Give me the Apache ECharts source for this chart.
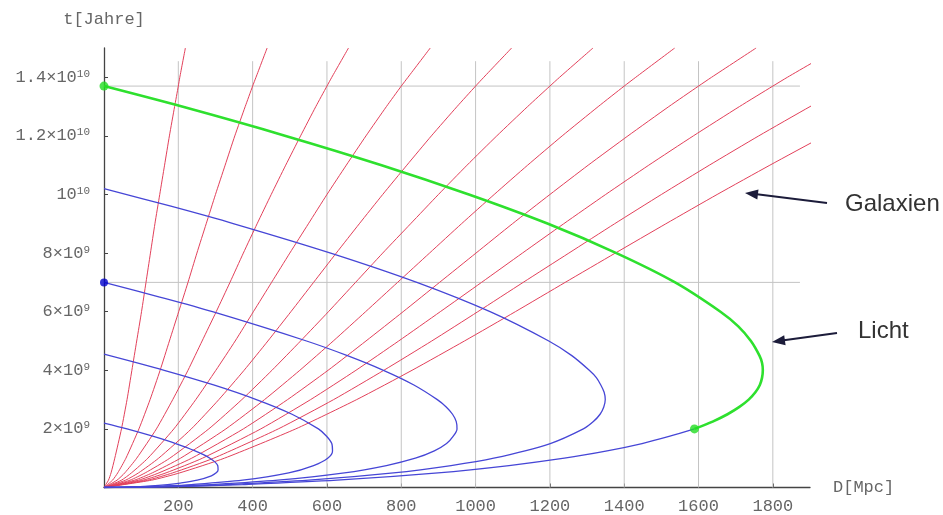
<!DOCTYPE html>
<html><head><meta charset="utf-8">
<script src="https://cdn.jsdelivr.net/npm/echarts@6/dist/echarts.min.js"></script>
<style>html,body{margin:0;padding:0;background:#fff}#c{width:943px;height:515px}</style>
</head><body><div id="c"></div>
<script>
// ---- axes / ticks ----
const xTicks = [200, 400, 600, 800, 1000, 1200, 1400, 1600, 1800];
const yTicks = [2, 4, 6, 8, 10, 12, 14];               // in 10^9 years
const yTickMant = ['2×10', '4×10', '6×10', '8×10', '10', '1.2×10', '1.4×10'];
const yTickExp = ['9', '9', '9', '9', '10', '10', '10'];
const gridXLines = [200, 400, 600, 800, 1000, 1200, 1400, 1600, 1800];
const gridXTop = 14.55;
const gridYLines = [13.7, 7.0];
const gridYRight = 1873;

// ---- galaxy world lines (D in Mpc at times galaxyT, 10^9 years) ----
const galaxyT = [0, 0.25, 0.5, 1, 2, 3, 4, 5, 6, 7, 8, 9, 10, 11, 12, 13, 13.7, 14, 15];
const galaxy200  = [0, 12, 19, 29, 47, 62, 75, 88, 101, 113, 125, 137, 150, 163, 176, 190, 200, 204, 219];
const galaxy400  = [0, 23, 37, 59, 94, 124, 151, 176, 201, 226, 250, 275, 300, 326, 352, 380, 400, 409, 439];
const galaxy600  = [0, 35, 56, 88, 141, 185, 226, 264, 302, 339, 375, 412, 450, 489, 529, 570, 600, 613, 658];
const galaxy800  = [0, 47, 74, 118, 188, 247, 301, 353, 402, 451, 500, 550, 600, 652, 705, 760, 800, 818, 878];
const galaxy1000 = [0, 58, 93, 147, 235, 309, 377, 441, 503, 564, 625, 687, 750, 815, 881, 950, 1000, 1022, 1097];
const galaxy1200 = [0, 70, 111, 177, 282, 371, 452, 529, 604, 677, 750, 825, 900, 977, 1057, 1140, 1200, 1226, 1316];
const galaxy1400 = [0, 82, 130, 206, 328, 432, 527, 617, 704, 790, 876, 962, 1050, 1140, 1233, 1330, 1400, 1431, 1536];
const galaxy1600 = [0, 93, 148, 236, 375, 494, 603, 705, 805, 903, 1001, 1099, 1200, 1303, 1410, 1520, 1600, 1635, 1755];
const galaxy1800 = [0, 105, 167, 265, 422, 556, 678, 793, 905, 1016, 1126, 1237, 1350, 1466, 1586, 1710, 1800, 1839, 1975];
const galaxy2000 = [0, 117, 185, 295, 469, 618, 753, 882, 1006, 1128, 1251, 1374, 1500, 1629, 1762, 1900, 2000, 2044, 2194];
const galaxy2200 = [0, 128, 204, 324, 516, 680, 829, 970, 1107, 1241, 1376, 1512, 1650, 1792, 1938, 2090, 2200, 2248, 2413];

// ---- past light cones (blue) ----
const cone1T = [0, 0.005, 0.02, 0.05, 0.1, 0.15, 0.25, 0.4, 0.5, 0.6, 0.75, 1, 1.25, 1.5, 1.75, 2, 2.2];
const cone1D = [0, 31, 72, 119, 171, 205, 251, 289, 302, 307, 306, 285, 245, 193, 131, 62, 0];
const cone2T = [0, 0.005, 0.02, 0.05, 0.1, 0.25, 0.5, 0.75, 1, 1.25, 1.5, 1.75, 2, 2.5, 3, 3.5, 4, 4.55];
const cone2D = [0, 40, 94, 160, 235, 373, 497, 564, 602, 615, 613, 599, 577, 506, 410, 295, 162, 0];
const cone3T = [0, 0.005, 0.02, 0.05, 0.1, 0.25, 0.5, 0.75, 1, 1.25, 1.5, 1.75, 2, 2.25, 2.5, 2.75, 3, 3.5, 4, 4.5, 5, 6, 6.5, 7];
const cone3D = [0, 47, 112, 193, 288, 468, 647, 760, 838, 889, 922, 940, 950, 948, 938, 921, 897, 834, 752, 655, 545, 292, 150, 0];
const cone4T = [0, 0.005, 0.02, 0.05, 0.1, 0.25, 0.5, 0.75, 1, 1.5, 2, 2.25, 2.5, 2.75, 3, 3.25, 3.5, 3.75, 4, 4.5, 5, 6, 7, 8, 9, 9.6, 10.2];
const cone4D = [0, 53, 127, 221, 332, 551, 779, 934, 1049, 1201, 1290, 1317, 1335, 1345, 1349, 1346, 1337, 1325, 1306, 1259, 1197, 1039, 842, 610, 350, 180, 0];
const cone5LowT = [0, 0.005, 0.02, 0.05, 0.1, 0.25, 0.5, 0.75, 1, 1.25, 1.5, 1.75, 2];
const cone5LowD = [0, 59, 141, 247, 373, 627, 899, 1090, 1239, 1354, 1448, 1523, 1589];
// ---- today's light cone (green) ----
const lightT = [2, 2.25, 2.5, 2.75, 3, 3.25, 3.5, 3.75, 4, 4.25, 4.5, 5, 5.5, 6, 7, 8, 9, 10, 11, 12, 13, 13.7];
const lightD = [1589, 1638, 1678, 1710, 1735, 1753, 1765, 1771, 1773, 1771, 1764, 1741, 1707, 1659, 1537, 1379, 1195, 982, 747, 489, 210, 0];

const greenDots = [[0, 13.7], [1589, 2.0]];
const blueDots = [[0, 7.0]];

const galaxies = [galaxy200, galaxy400, galaxy600, galaxy800, galaxy1000, galaxy1200,
                  galaxy1400, galaxy1600, galaxy1800, galaxy2000, galaxy2200];
const blueCones = [[cone1D, cone1T], [cone2D, cone2T], [cone3D, cone3T], [cone4D, cone4T], [cone5LowD, cone5LowT]];

const zip = (D, T) => D.map((d, i) => [d, T[i]]);
const series = [];
const gridStyle = { color: '#c4c4c4', width: 1 };
gridXLines.forEach(g => series.push({ type: 'line', data: [[g, 0], [g, gridXTop]], symbol: 'none', lineStyle: gridStyle, silent: true, z: 1 }));
gridYLines.forEach(g => series.push({ type: 'line', data: [[0, g], [gridYRight, g]], symbol: 'none', lineStyle: gridStyle, silent: true, z: 1 }));
galaxies.forEach(D => series.push({ type: 'line', data: zip(D, galaxyT), symbol: 'none', smooth: 0.2,
  lineStyle: { color: '#e2405a', width: 1 }, z: 3 }));
blueCones.forEach(([D, T]) => series.push({ type: 'line', data: zip(D, T), symbol: 'none', smooth: 0.3,
  lineStyle: { color: '#4646d6', width: 1.3 }, z: 4 }));
series.push({ type: 'line', data: zip(lightD, lightT), symbol: 'none', smooth: 0.3,
  lineStyle: { color: '#2ee02e', width: 2.6 }, z: 5 });
series.push({ type: 'scatter', data: greenDots, symbolSize: 9, itemStyle: { color: '#22dd22' }, z: 6 });
series.push({ type: 'scatter', data: blueDots, symbolSize: 8, itemStyle: { color: '#0000cc' }, z: 6 });

const mono = 'Liberation Mono, Courier New, monospace';
const chart = echarts.init(document.getElementById('c'));
chart.setOption({
  animation: false,
  backgroundColor: '#fff',
  grid: { left: 104, top: 48, width: 706, height: 439.5 },
  xAxis: {
    type: 'value', min: 0, max: 1900, interval: 200,
    name: 'D[Mpc]', nameLocation: 'end', nameGap: 23,
    nameTextStyle: { fontFamily: mono, fontSize: 17, color: '#666' },
    axisLine: { lineStyle: { color: '#444', width: 1.3 } },
    axisTick: { inside: true, length: 4, customValues: xTicks, lineStyle: { color: '#444' } },
    axisLabel: { customValues: xTicks, margin: 10, fontFamily: mono, fontSize: 17, color: '#666',
      formatter: v => xTicks.includes(v) ? String(v) : '' },
    splitLine: { show: false }
  },
  yAxis: {
    type: 'value', min: 0, max: 15, interval: 2,
    name: 't[Jahre]', nameLocation: 'end', nameGap: 20,
    nameTextStyle: { fontFamily: mono, fontSize: 17, color: '#666', align: 'center' },
    axisLine: { lineStyle: { color: '#444', width: 1.3 } },
    axisTick: { inside: true, length: 4, customValues: yTicks, lineStyle: { color: '#444' } },
    axisLabel: { customValues: yTicks, margin: 14,
      formatter: v => { const i = yTicks.indexOf(v); return i < 0 ? '' : '{m|' + yTickMant[i] + '}{s|' + yTickExp[i] + '}'; },
      rich: {
        m: { fontFamily: mono, fontSize: 17, color: '#666', lineHeight: 18 },
        s: { fontFamily: mono, fontSize: 11, color: '#666', lineHeight: 9, verticalAlign: 'top' }
      } },
    splitLine: { show: false }
  },
  series: series,
  graphic: [
    { type: 'line', shape: { x1: 827, y1: 203, x2: 755, y2: 194 }, style: { stroke: '#1c1c3a', lineWidth: 2 }, z: 10 },
    { type: 'polygon', shape: { points: [[745, 193], [758.5, 189.6], [757.3, 199.5]] }, style: { fill: '#1c1c3a' }, z: 10 },
    { type: 'line', shape: { x1: 837, y1: 333, x2: 782, y2: 340.6 }, style: { stroke: '#1c1c3a', lineWidth: 2 }, z: 10 },
    { type: 'polygon', shape: { points: [[772, 342], [785.6, 345.2], [784.2, 335.3]] }, style: { fill: '#1c1c3a' }, z: 10 },
    { type: 'text', left: 845, top: 192, style: { text: 'Galaxien', font: '24px Liberation Sans, Arial, sans-serif', fill: '#333' }, z: 10 },
    { type: 'text', left: 858, top: 319, style: { text: 'Licht', font: '24px Liberation Sans, Arial, sans-serif', fill: '#333' }, z: 10 }
  ]
});
</script></body></html>
